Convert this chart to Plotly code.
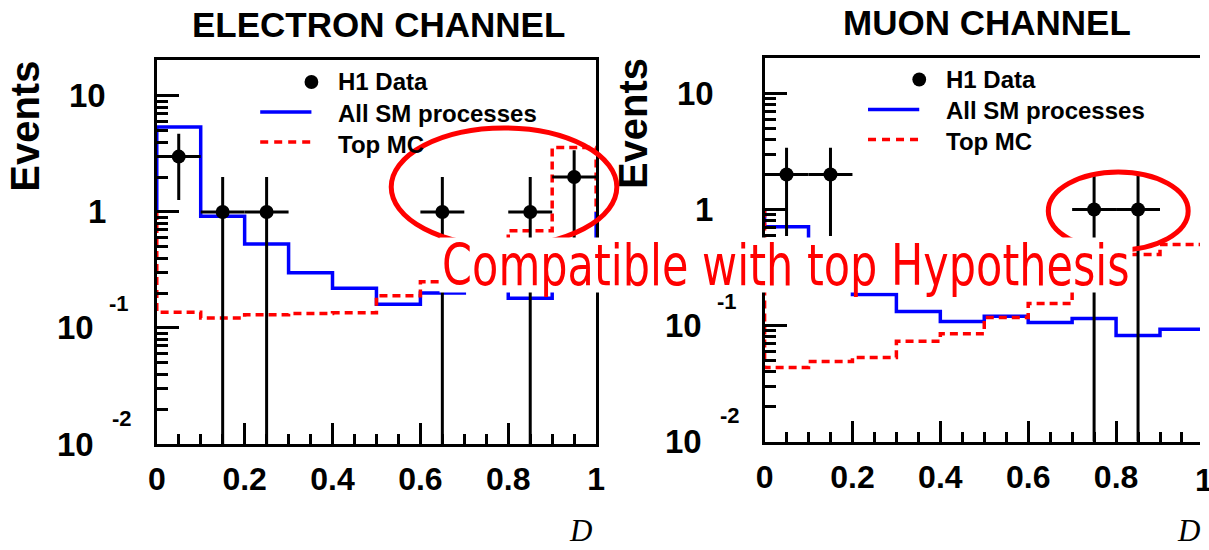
import plotly.graph_objects as go

W, H = 1209, 550

# ---------------- data ----------------
bin_edges = [0.0, 0.1, 0.2, 0.3, 0.4, 0.5, 0.6, 0.7, 0.8, 0.9, 1.0]

# Electron channel
e_data_x = [0.05, 0.15, 0.25, 0.65, 0.85, 0.95]
e_data_y = [3, 1, 1, 1, 1, 2]
e_data_err = [1.73, 1.0, 1.0, 1.0, 1.0, 1.41]
e_sm = [5.4, 0.92, 0.53, 0.30, 0.22, 0.16, 0.20, 0.30, 0.18, 0.40]
e_top = [0.137, 0.122, 0.13, 0.133, 0.135, 0.19, 0.25, 0.40, 0.69, 3.6]

# Muon channel
m_data_x = [0.05, 0.15, 0.75, 0.85]
m_data_y = [2, 2, 1, 1]
m_data_err = [1.41, 1.41, 1.0, 1.0]
m_sm = [0.71, 0.35, 0.185, 0.132, 0.108, 0.12, 0.106, 0.115, 0.082, 0.093]
m_top = [0.0435, 0.049, 0.053, 0.073, 0.085, 0.117, 0.155, 0.30, 0.41, 0.50]

x_tick_vals = [0, 0.2, 0.4, 0.6, 0.8, 1.0]
x_tick_text = ["0", "0.2", "0.4", "0.6", "0.8", "1"]
titles = ["ELECTRON CHANNEL", "MUON CHANNEL"]
legend_labels = ["H1 Data", "All SM processes", "Top MC"]
note_text = "Compatible with top Hypothesis"

# ---------------- layout helpers ----------------
BOLD = "Liberation Sans"
BASELINE = 1.0  # ROOT log-scale histogram outer edges end at 1


def px(x):
    return x / W


def py(y):
    return 1 - y / H


def step_path(edges, vals):
    xs = [edges[0]]
    ys = [BASELINE]
    for i, v in enumerate(vals):
        xs += [edges[i], edges[i + 1]]
        ys += [v, v]
    xs.append(edges[-1])
    ys.append(BASELINE)
    return xs, ys


fig = go.Figure()

panels = [
    dict(xa="x", ya="y", data_x=e_data_x, data_y=e_data_y, err=e_data_err,
         sm=e_sm, top=e_top, dx=0, dy=0),
    dict(xa="x2", ya="y2", data_x=m_data_x, data_y=m_data_y, err=m_data_err,
         sm=m_sm, top=m_top, dx=617, dy=-2.5),
]

for p in panels:
    xs, ys = step_path(bin_edges, p["sm"])
    fig.add_trace(go.Scatter(x=xs, y=ys, mode="lines", xaxis=p["xa"], yaxis=p["ya"],
                             line=dict(color="#0000ff", width=3.5), showlegend=False,
                             hoverinfo="skip"))
    xs, ys = step_path(bin_edges, p["top"])
    fig.add_trace(go.Scatter(x=xs, y=ys, mode="lines", xaxis=p["xa"], yaxis=p["ya"],
                             line=dict(color="#ff0000", width=3.5, dash="8px,5px"),
                             showlegend=False, hoverinfo="skip"))
    floor = 1e-3
    minus = [min(e, v - floor) for e, v in zip(p["err"], p["data_y"])]
    fig.add_trace(go.Scatter(
        x=p["data_x"], y=p["data_y"], mode="markers", xaxis=p["xa"], yaxis=p["ya"],
        marker=dict(color="black", size=14),
        error_y=dict(type="data", array=p["err"], arrayminus=minus, color="black",
                     thickness=3, width=0),
        error_x=dict(type="constant", value=0.05, color="black", thickness=3, width=0),
        showlegend=False, hoverinfo="skip"))

axis_common = dict(
    showline=True, linecolor="black", linewidth=3,
    ticks="inside", tickcolor="black", tickwidth=2.5,
    showgrid=False, zeroline=False,
)

y_minor = [m * 10 ** d for d in (-2, -1, 0) for m in range(2, 10)]
x_font = dict(family=BOLD, size=32, color="black", weight="bold")
x_minor = dict(dtick=0.05, tick0=0, ticks="inside", ticklen=10, tickcolor="black",
               tickwidth=2.5)
y_minor_d = dict(tickmode="array", tickvals=y_minor, ticks="inside", ticklen=11,
                 tickcolor="black", tickwidth=2.5)

fig.update_layout(
    width=W, height=H,
    margin=dict(l=0, r=0, t=0, b=0),
    paper_bgcolor="white", plot_bgcolor="white",
    showlegend=False,
    xaxis=dict(domain=[px(150), px(596)], range=[0, 1], tickvals=x_tick_vals,
               ticktext=x_tick_text, ticklen=21, tickfont=x_font, ticklabelstandoff=5,
               minor=x_minor, anchor="y", mirror=True, **axis_common),
    yaxis=dict(domain=[py(444), py(60)], type="log", range=[-2, 1.31],
               tickvals=[0.01, 0.1, 1, 10], ticklen=22, showticklabels=False,
               minor=y_minor_d, anchor="x", mirror=True, **axis_common),
    xaxis2=dict(domain=[px(767), 1.0], range=[0, (W - 767) / 446.0], tickvals=x_tick_vals,
                ticktext=x_tick_text, ticklen=21, tickfont=x_font, ticklabelstandoff=5,
                minor=x_minor, anchor="y2", mirror=True, **axis_common),
    yaxis2=dict(domain=[py(441.5), py(57.5)], type="log", range=[-2, 1.31],
                tickvals=[0.01, 0.1, 1, 10], ticklen=22, showticklabels=False,
                minor=y_minor_d, anchor="x2", mirror=False, **axis_common),
)

annotations = []
shapes = []

title_centers = [(375, 25), (993, 22)]
for t, (cx, cy) in zip(titles, title_centers):
    annotations.append(dict(text=t, x=px(cx), y=py(cy), xref="paper", yref="paper",
                            showarrow=False, xanchor="center", yanchor="middle",
                            font=dict(family=BOLD, size=35, color="black", weight="bold")))

for i, p in enumerate(panels):
    dx = p["dx"]
    yref = p["ya"]
    lab = dict(xref="paper", yref=yref, showarrow=False, xanchor="right", yanchor="middle")
    f_big = dict(family=BOLD, size=33, color="black", weight="bold")
    f_sml = dict(family=BOLD, size=22, color="black", weight="bold")
    annotations += [
        dict(text="10", x=px(101 + dx), y=1, font=f_big, **lab),
        dict(text="1", x=px(100 + dx), y=0, font=f_big, **lab),
        dict(text="10", x=px(88 + dx), y=-1, font=f_big, **lab),
        dict(text="-1", x=px(124 + dx), y=-1, yshift=24, font=f_sml, **lab),
        dict(text="10", x=px(88 + dx), y=-2, font=f_big, **lab),
        dict(text="-2", x=px(127 + dx), y=-2, yshift=26, font=f_sml, **lab),
    ]
    # y title
    annotations.append(dict(text="Events", x=px(16 + dx), y=py(126 + p["dy"]), xref="paper",
                            yref="paper", showarrow=False, textangle=-90,
                            xanchor="center", yanchor="middle",
                            font=dict(family=BOLD, size=40, color="black", weight="bold")))
    # x title
    annotations.append(dict(text="<i>D</i>", x=px(580 + dx), y=py(530), xref="paper",
                            yref="paper", showarrow=False, xanchor="center",
                            yanchor="middle",
                            font=dict(family="Liberation Serif", size=31, color="black")))
    # legend
    lx = 307 + dx
    rows = [82 + p["dy"], 113 + p["dy"], 144 + p["dy"]]
    shapes.append(dict(type="circle", xref="paper", yref="paper",
                       x0=px(lx - 7), x1=px(lx + 7), y0=py(rows[0] + 7), y1=py(rows[0] - 7),
                       fillcolor="black", line=dict(color="black", width=0)))
    shapes.append(dict(type="line", xref="paper", yref="paper", x0=px(lx - 52), x1=px(lx),
                       y0=py(rows[1] - 1), y1=py(rows[1] - 1),
                       line=dict(color="#0000ff", width=3.5)))
    shapes.append(dict(type="line", xref="paper", yref="paper", x0=px(lx - 52), x1=px(lx),
                       y0=py(rows[2] - 2), y1=py(rows[2] - 2),
                       line=dict(color="#ff0000", width=3.5, dash="8px,6px")))
    for lbl, ry in zip(legend_labels, rows):
        annotations.append(dict(text=lbl, x=px(lx + 25), y=py(ry), xref="paper", yref="paper",
                                showarrow=False, xanchor="left", yanchor="middle",
                                font=dict(family=BOLD, size=24, color="black",
                                          weight="bold")))

# partially visible "1" tick label of the muon panel
annotations.append(dict(text="1", x=px(767 + 446), y=py(480), xref="paper", yref="paper",
                        showarrow=False, xanchor="center", yanchor="middle",
                        font=dict(family=BOLD, size=32, color="black", weight="bold")))

# ellipses
shapes.append(dict(type="circle", xref="paper", yref="paper", x0=px(388), x1=px(617),
                   y0=py(246), y1=py(128), line=dict(color="#ff0000", width=5), layer="above"))
shapes.append(dict(type="circle", xref="paper", yref="paper", x0=px(1055), x1=px(1197),
                   y0=py(250), y1=py(172), line=dict(color="#ff0000", width=5), layer="above"))

annotations.append(dict(text=note_text, x=px(789), y=py(265), xref="paper", yref="paper",
                        showarrow=False, xanchor="center", yanchor="middle",
                        bgcolor="white", borderpad=2,
                        font=dict(family="DejaVu Sans", size=43, color="#ff0000")))

fig.update_layout(annotations=annotations, shapes=shapes)

# the overlaid note in the reference is drawn vertically stretched; reproduce that
post = """
var gd = document.getElementById('{plot_id}');
var ts = gd.querySelectorAll('text.annotation-text');
ts.forEach(function(t){
  if (t.textContent === '%s') {
    var bb = t.getBBox();
    var cy = bb.y + bb.height / 2;
    t.setAttribute('transform', 'translate(0,' + cy + ') scale(1,1.32) translate(0,' + (-cy) + ')');
  }
});
""" % note_text

fig.write_html("out.html", config={"displayModeBar": False}, post_script=post)
